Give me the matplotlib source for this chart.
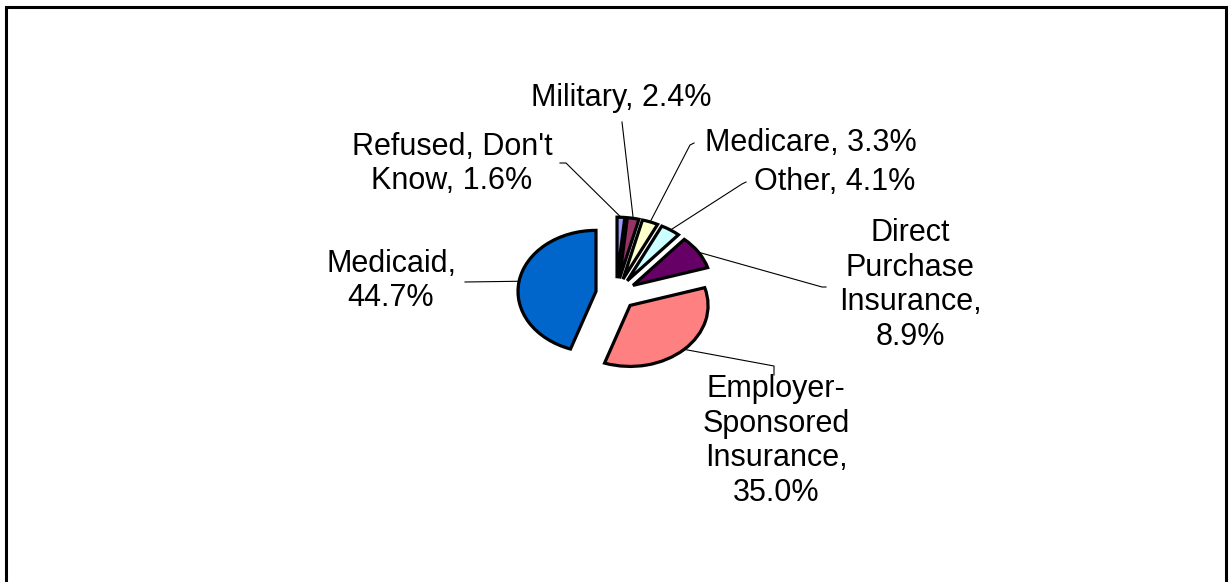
import numpy as np
import matplotlib
matplotlib.use("Agg")
import matplotlib.pyplot as plt
from matplotlib.patches import Rectangle

# slices, clockwise from 12 o'clock
categories = ["Refused, Don't Know", "Military", "Medicare", "Other",
              "Direct Purchase Insurance", "Employer-Sponsored Insurance",
              "Medicaid"]
shares = [1.6, 2.4, 3.3, 4.1, 8.9, 35.0, 44.7]
colors = ["#9999FF", "#993366", "#FFFFCC", "#CCFFFF", "#660066", "#FF8080", "#0066CC"]

# how each label is broken over lines in the original
label_fmt = ["Refused, Don't\nKnow, {}", "Military, {}", "Medicare, {}", "Other, {}",
             "Direct\nPurchase\nInsurance,\n{}", "Employer-\nSponsored\nInsurance,\n{}",
             "Medicaid,\n{}"]

# label placement (pixels in the 1231x582 picture) and leader end points
label_pos = [(452, 164), (621, 98), (811, 143), (835, 182), (910, 285), (776, 441), (391, 281)]
leader_end = [[(566, 163), (560, 163)],
              [(622, 122)],
              [(690, 145), (694, 143)],
              [(742, 184), (746, 182)],
              [(822, 287), (826, 287)],
              [(774, 366), (774, 375)],
              [(465, 282)]]

W, H = 1231, 582
CX, CY = 616, 294      # pie centre in pixels (from top)
RX, RY = 78, 61        # pixel size of one radius, the original pie is stretched


def to_data(px, py):
    return (px - CX) / RX, (CY - py) / RY


plt.rcParams['font.family'] = ['Liberation Sans', 'DejaVu Sans']

fig = plt.figure(figsize=(W / 100, H / 100), dpi=100)
ax = fig.add_axes([0, 0, 1, 1])

wedges, _ = ax.pie(shares, colors=colors, startangle=90, counterclock=False,
                   explode=[0.26] * len(shares), radius=1,
                   wedgeprops=dict(edgecolor="black", linewidth=2.3))

ax.set_aspect("auto")
ax.set_xlim(-CX / RX, (W - CX) / RX)
ax.set_ylim(-(H - CY) / RY, CY / RY)
ax.axis("off")

for w, fmt, val, lp, le in zip(wedges, label_fmt, shares, label_pos, leader_end):
    mid = np.deg2rad((w.theta1 + w.theta2) / 2)
    cx, cy = w.center
    sx, sy = cx + np.cos(mid) * w.r, cy + np.sin(mid) * w.r
    pts = [(sx, sy)] + [to_data(*p) for p in le]
    xs, ys = zip(*pts)
    ax.plot(xs, ys, color="black", lw=0.8, zorder=1)
    tx, ty = to_data(*lp)
    ax.text(tx, ty, fmt.format(f"{val:.1f}%"), ha="center", va="center",
            fontsize=22, linespacing=1.2)

# outer frame (bottom edge falls outside the picture)
fig.patches.append(Rectangle((6 / W, -0.05), 1220 / W, (H - 6) / H + 0.05 - 0.002,
                             transform=fig.transFigure, fill=False,
                             edgecolor="black", linewidth=2.2))

fig.savefig("out.png", dpi=100)
